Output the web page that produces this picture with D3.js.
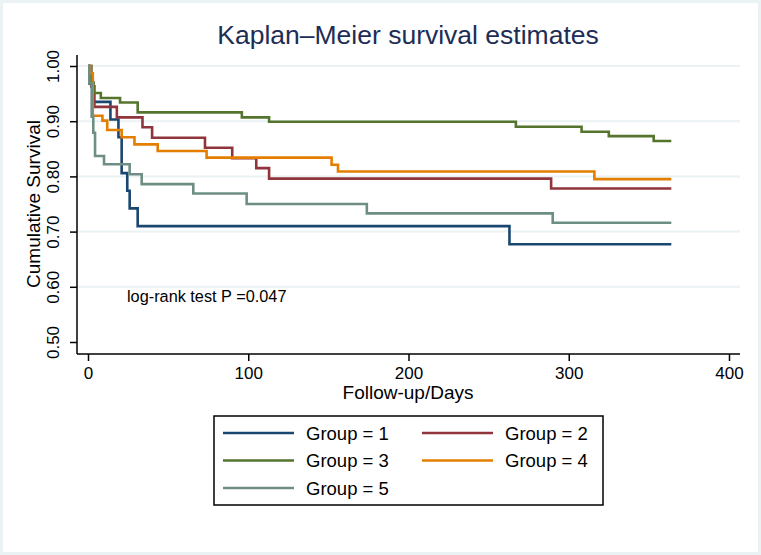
<!DOCTYPE html>
<html>
<head>
<meta charset="utf-8">
<script src="https://cdn.jsdelivr.net/npm/d3@7"></script>
<style>
  body { margin: 0; background: #fff; }
  text { font-family: "Liberation Sans", Arial, Helvetica, sans-serif; }
</style>
</head>
<body>
<div id="chart"></div>
<script>
// step data (days, survival)
var groups = ["Group = 1", "Group = 2", "Group = 3", "Group = 4", "Group = 5"];
var colors = ["#1a476f", "#90353b", "#55752f", "#e37e00", "#6e8e84"];

var times1 = [0, 1, 3, 14, 19, 21, 24.5, 26, 31, 263, 364];
var surv1  = [1, 0.968, 0.935, 0.903, 0.871, 0.806, 0.774, 0.742, 0.710, 0.677, 0.677];
var times2 = [0, 2, 4, 18, 34, 40, 73, 90, 105, 113, 289, 364];
var surv2  = [1, 0.963, 0.926, 0.907, 0.889, 0.870, 0.852, 0.833, 0.815, 0.796, 0.778, 0.778];
var times3 = [0, 2, 3.5, 8, 20, 31, 96, 113, 267, 308, 325, 353, 364];
var surv3  = [1, 0.970, 0.951, 0.942, 0.934, 0.916, 0.907, 0.899, 0.890, 0.881, 0.873, 0.864, 0.864];
var times4 = [0, 1.5, 3, 9, 12, 21, 29, 43.5, 74, 152, 156, 316, 364];
var surv4  = [1, 0.987, 0.910, 0.901, 0.884, 0.871, 0.858, 0.846, 0.834, 0.821, 0.809, 0.795, 0.795];
var times5 = [0, 0.8, 2.3, 3.3, 4.4, 10, 26, 33.5, 65.7, 99, 174, 290, 364];
var surv5  = [1, 0.969, 0.908, 0.879, 0.837, 0.822, 0.804, 0.786, 0.769, 0.750, 0.733, 0.716, 0.716];

var xTicks = [0, 100, 200, 300, 400];
var yTicks = [0.5, 0.6, 0.7, 0.8, 0.9, 1.0];
var yGrid = [0.6, 0.7, 0.8, 0.9, 1.0];

var allTimes = [times1, times2, times3, times4, times5];
var allSurv = [surv1, surv2, surv3, surv4, surv5];

var width = 761, height = 555;
var x = d3.scaleLinear().domain([0, 400]).range([88, 729]);
var y = d3.scaleLinear().domain([0.5, 1]).range([342, 66]);
var axisLeftX = 77, axisRightX = 740, axisBottomY = 354, axisTopY = 55;

var svg = d3.select("#chart").append("svg")
  .attr("width", width)
  .attr("height", height);

svg.append("rect")
  .attr("x", 1.5).attr("y", 1.5)
  .attr("width", width - 3).attr("height", height - 3)
  .attr("fill", "#fff")
  .attr("stroke", "#eaf2f3")
  .attr("stroke-width", 3);

// grid
svg.append("g").selectAll("line")
  .data(yGrid)
  .enter().append("line")
  .attr("x1", axisLeftX).attr("x2", axisRightX)
  .attr("y1", function(d) { return y(d); })
  .attr("y2", function(d) { return y(d); })
  .attr("stroke", "#eaf2f3")
  .attr("stroke-width", 2);

// title
svg.append("text")
  .attr("x", 408).attr("y", 44)
  .attr("text-anchor", "middle")
  .attr("font-size", 26.5)
  .attr("fill", "#1e2d55")
  .text("Kaplan\u2013Meier survival estimates");

// y axis
var yAxis = d3.axisLeft(y).tickValues(yTicks).tickSize(7).tickFormat(d3.format(".2f"));
var gY = svg.append("g")
  .attr("transform", "translate(" + axisLeftX + ",0)")
  .call(yAxis);
gY.select(".domain").remove();
gY.selectAll(".tick line").attr("stroke", "#000").attr("stroke-width", 1.5);
gY.selectAll(".tick text")
  .attr("font-family", "Liberation Sans, Arial, sans-serif")
  .attr("font-size", 17)
  .attr("fill", "#000")
  .attr("text-anchor", "middle")
  .attr("x", 0).attr("dy", 0)
  .attr("transform", "translate(-18,0) rotate(-90)")
  .attr("y", 0);
gY.append("line")
  .attr("x1", 0).attr("x2", 0)
  .attr("y1", axisTopY).attr("y2", axisBottomY)
  .attr("stroke", "#000").attr("stroke-width", 1.5);

// x axis
var xAxis = d3.axisBottom(x).tickValues(xTicks).tickSize(7);
var gX = svg.append("g")
  .attr("transform", "translate(0," + axisBottomY + ")")
  .call(xAxis);
gX.select(".domain").remove();
gX.selectAll(".tick line").attr("stroke", "#000").attr("stroke-width", 1.5);
gX.selectAll(".tick text")
  .attr("font-family", "Liberation Sans, Arial, sans-serif")
  .attr("font-size", 17)
  .attr("fill", "#000")
  .attr("y", 10).attr("dy", "0.9em");
gX.append("line")
  .attr("x1", axisLeftX).attr("x2", axisRightX)
  .attr("y1", 0).attr("y2", 0)
  .attr("stroke", "#000").attr("stroke-width", 1.5);

svg.append("text")
  .attr("x", 408).attr("y", 399)
  .attr("text-anchor", "middle")
  .attr("font-size", 19)
  .text("Follow-up/Days");

svg.append("text")
  .attr("transform", "translate(40,204) rotate(-90)")
  .attr("text-anchor", "middle")
  .attr("font-size", 19)
  .text("Cumulative Survival");

// curves
var line = d3.line()
  .x(function(d) { return x(d[0]); })
  .y(function(d) { return y(d[1]); })
  .curve(d3.curveStepAfter);

var curves = svg.append("g");
allTimes.forEach(function(t, i) {
  var pts = t.map(function(v, j) { return [v, allSurv[i][j]]; });
  curves.append("path")
    .attr("d", line(pts))
    .attr("fill", "none")
    .attr("stroke", colors[i])
    .attr("stroke-width", 2.6);
});

svg.append("text")
  .attr("x", 127).attr("y", 302)
  .attr("font-size", 16.3)
  .text("log-rank test P =0.047");

// legend
var legend = svg.append("g");
legend.append("rect")
  .attr("x", 214).attr("y", 416)
  .attr("width", 389).attr("height", 89)
  .attr("fill", "#fff")
  .attr("stroke", "#000")
  .attr("stroke-width", 1.5);

var lx = [223, 422], tx = [306, 505], ly = [433, 460.5, 488];
groups.forEach(function(g, i) {
  var col = i % 2, row = Math.floor(i / 2);
  legend.append("line")
    .attr("x1", lx[col]).attr("x2", lx[col] + 71)
    .attr("y1", ly[row]).attr("y2", ly[row])
    .attr("stroke", colors[i])
    .attr("stroke-width", 2.6);
  legend.append("text")
    .attr("x", tx[col]).attr("y", ly[row])
    .attr("dy", "0.36em")
    .attr("font-size", 18.5)
    .text(g);
});
</script>
</body>
</html>
